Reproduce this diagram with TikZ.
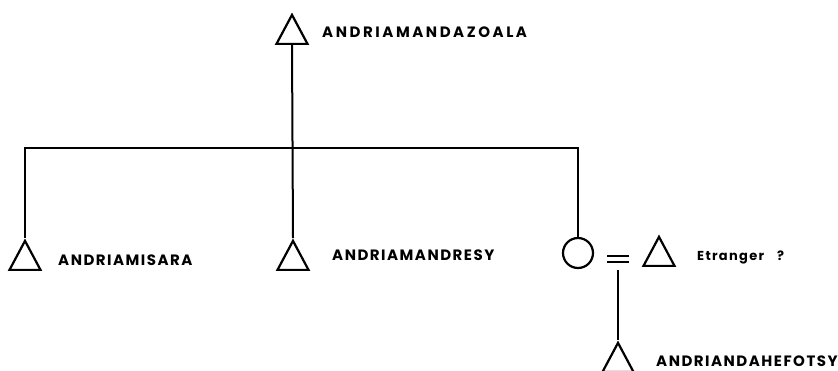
\documentclass[tikz,border=0pt]{standalone}
\usepackage{fontspec}
\setmainfont{Poppins}[LetterSpace=10]
\usetikzlibrary{shapes.geometric}

\begin{document}
\begin{tikzpicture}[x=1pt,y=-1pt,
  man/.style={isosceles triangle,isosceles triangle stretches,shape border rotate=90,draw,line width=2.2pt,inner sep=0pt,minimum width=31pt,minimum height=29pt,anchor=apex},
  woman/.style={circle,draw,line width=2.2pt,inner sep=0pt,minimum size=30pt},
  who/.style={anchor=base west,inner sep=0pt,font=\fontsize{15}{17}\selectfont\bfseries},
  kin/.style={line width=2pt}]
\useasboundingbox (0,0) rectangle (838,370);

\node[man] (T0) at (292,12) {};
\node[man] (T1) at (25,238) {};
\node[man] (T2) at (293,238) {};
\node[woman] (C) at (578,253) {};
\node[inner sep=0pt,minimum width=21pt,minimum height=6pt] (eq) at (618,259) {};
\node[man] (T3) at (659,234) {};
\node[man] (T4) at (618,340) {};

\coordinate (bar) at (0,148);

\draw[kin] (T0.south) -- (T2.apex);
\draw[kin] (T1.apex) -- (T1.apex |- bar) -- (C.north |- bar) -- (C.north);
\draw[kin] (eq.north west) -- (eq.north east) (eq.south west) -- (eq.south east);
\draw[kin,shorten <=8pt] (eq.south) -- (T4.apex);

\node[who] (n0) at (322,37) {\addfontfeatures{LetterSpace=17}ANDRIAMANDAZOALA};
\node[who] (n1) at (58,265) {ANDRIAMISARA};
\node[who] (n2) at (332,260) {ANDRIAMANDRESY};
\node[who,font=\fontsize{13}{15}\selectfont\bfseries] (n3) at (697,260) {Etranger\quad?};
\node[who] (n4) at (656,366) {ANDRIANDAHEFOTSY};
\end{tikzpicture}
\end{document}
